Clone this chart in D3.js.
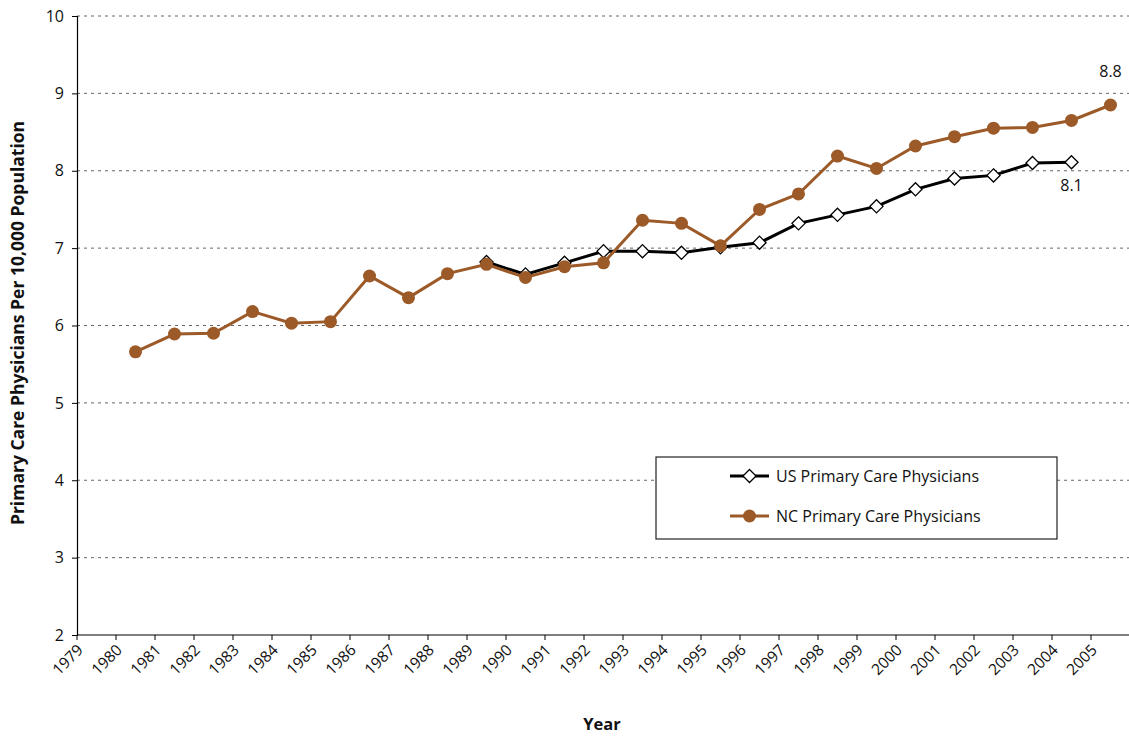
<!DOCTYPE html>
<html>
<head>
<meta charset="utf-8">
<script src="https://cdn.jsdelivr.net/npm/d3@7"></script>
<style>
  body { margin: 0; background: #fff; }
  text { font-family: "Open Sans", "Noto Sans", sans-serif; fill: #111; }
</style>
</head>
<body>
<div id="chart"></div>
<script>
// category labels on the x axis (tick labels)
const years = d3.range(1979, 2006).map(String);
// NC values, 1980-2005
const ncYears = d3.range(1980, 2006).map(String);
const ncValues = [5.66, 5.89, 5.90, 6.18, 6.03, 6.05, 6.64, 6.36, 6.67, 6.79,
  6.62, 6.76, 6.81, 7.36, 7.32, 7.03, 7.50, 7.70, 8.19, 8.03,
  8.32, 8.44, 8.55, 8.56, 8.65, 8.85];
// US values, 1989-2004
const usYears = d3.range(1989, 2005).map(String);
const usValues = [6.82, 6.66, 6.81, 6.96, 6.96, 6.94, 7.01, 7.07, 7.32, 7.43,
  7.54, 7.76, 7.90, 7.94, 8.10, 8.11];
const yTicks = [2, 3, 4, 5, 6, 7, 8, 9, 10];
const seriesNames = ["US Primary Care Physicians", "NC Primary Care Physicians"];

const W = 1129, H = 738;
const brown = "#9c5a28";

const svg = d3.select("#chart")
  .append("svg")
    .attr("width", W)
    .attr("height", H);

const x = d3.scaleBand()
  .domain(years)
  .range([77, 1130])
  .padding(0);

const y = d3.scaleLinear()
  .domain([2, 10])
  .range([635, 16]);

const cx = d => x(d) + x.bandwidth() / 2;

// gridlines
svg.append("g")
  .selectAll("line")
  .data(yTicks.filter(d => d > 2))
  .join("line")
    .attr("x1", 77)
    .attr("x2", W)
    .attr("y1", d => y(d))
    .attr("y2", d => y(d))
    .attr("stroke", "#666")
    .attr("stroke-width", 1)
    .attr("stroke-dasharray", "3,4");

// Y axis
const yAxis = svg.append("g")
  .attr("transform", "translate(77,0)")
  .call(d3.axisLeft(y).tickValues(yTicks).tickSize(5).tickPadding(8).tickFormat(d3.format("d")));
yAxis.select(".domain").attr("stroke", "#000").attr("stroke-width", 1.2);
yAxis.selectAll(".tick line").attr("stroke", "#000");
yAxis.selectAll("text").style("font-size", "16px").attr("fill", "#111");

// X axis: ticks at band edges
const xAxis = svg.append("g")
  .attr("transform", "translate(0,635)");
xAxis.append("line")
  .attr("x1", 77).attr("x2", W)
  .attr("stroke", "#000").attr("stroke-width", 1.2);
xAxis.selectAll(".tk")
  .data(years)
  .join("line")
    .attr("class", "tk")
    .attr("x1", d => x(d)).attr("x2", d => x(d))
    .attr("y1", 0).attr("y2", 5)
    .attr("stroke", "#000");
xAxis.selectAll(".lbl")
  .data(years)
  .join("text")
    .attr("class", "lbl")
    .attr("text-anchor", "end")
    .attr("transform", d => `translate(${x(d) + 7}, 16) rotate(-45)`)
    .style("font-size", "15.5px")
    .text(d => d);

// axis titles
svg.append("text")
  .attr("text-anchor", "middle")
  .attr("x", 602)
  .attr("y", 730)
  .style("font-size", "16.5px")
  .style("font-weight", "bold")
  .text("Year");

svg.append("text")
  .attr("text-anchor", "middle")
  .attr("transform", "translate(24, 323) rotate(-90)")
  .style("font-size", "17.5px")
  .style("font-weight", "bold")
  .text("Primary Care Physicians Per 10,000 Population");

const line = d3.line()
  .x(d => cx(d[0]))
  .y(d => y(d[1]));

const usData = d3.zip(usYears, usValues);
const ncData = d3.zip(ncYears, ncValues);

// US line
svg.append("path")
  .datum(usData)
  .attr("d", line)
  .attr("fill", "none")
  .attr("stroke", "#000")
  .attr("stroke-width", 3);

const diamond = d3.symbol().type(d3.symbolDiamond2).size(110);

svg.append("g")
  .selectAll("path")
  .data(usData)
  .join("path")
    .attr("d", diamond)
    .attr("transform", d => `translate(${cx(d[0])},${y(d[1])})`)
    .attr("fill", "#fff")
    .attr("stroke", "#000")
    .attr("stroke-width", 1.3);

// NC line
svg.append("path")
  .datum(ncData)
  .attr("d", line)
  .attr("fill", "none")
  .attr("stroke", brown)
  .attr("stroke-width", 3);

svg.append("g")
  .selectAll("circle")
  .data(ncData)
  .join("circle")
    .attr("cx", d => cx(d[0]))
    .attr("cy", d => y(d[1]))
    .attr("r", 6.5)
    .attr("fill", brown);

// end value labels
svg.append("text")
  .attr("text-anchor", "middle")
  .attr("x", cx(ncYears[ncYears.length - 1]))
  .attr("y", y(ncValues[ncValues.length - 1]) - 28)
  .style("font-size", "16px")
  .text(d3.format(".1f")(ncValues[ncValues.length - 1]));

svg.append("text")
  .attr("text-anchor", "middle")
  .attr("x", cx(usYears[usYears.length - 1]))
  .attr("y", y(usValues[usValues.length - 1]) + 29)
  .style("font-size", "16px")
  .text(d3.format(".1f")(usValues[usValues.length - 1]));

// legend
const legend = svg.append("g").attr("transform", "translate(656,457)");
legend.append("rect")
  .attr("width", 401)
  .attr("height", 82)
  .attr("fill", "#fff")
  .attr("stroke", "#222")
  .attr("stroke-width", 1.2);

const rows = legend.selectAll(".row")
  .data(seriesNames)
  .join("g")
    .attr("class", "row")
    .attr("transform", (d, i) => `translate(0, ${19 + i * 40})`);

rows.append("line")
  .attr("x1", 74).attr("x2", 113)
  .attr("stroke", (d, i) => i === 0 ? "#000" : brown)
  .attr("stroke-width", 3);

rows.filter((d, i) => i === 0).append("path")
  .attr("d", diamond)
  .attr("transform", "translate(93.5,0)")
  .attr("fill", "#fff")
  .attr("stroke", "#000")
  .attr("stroke-width", 1.3);

rows.filter((d, i) => i === 1).append("circle")
  .attr("cx", 93.5)
  .attr("r", 6.5)
  .attr("fill", brown);

rows.append("text")
  .attr("x", 120)
  .attr("dy", "0.35em")
  .style("font-size", "16px")
  .text(d => d);
</script>
</body>
</html>
